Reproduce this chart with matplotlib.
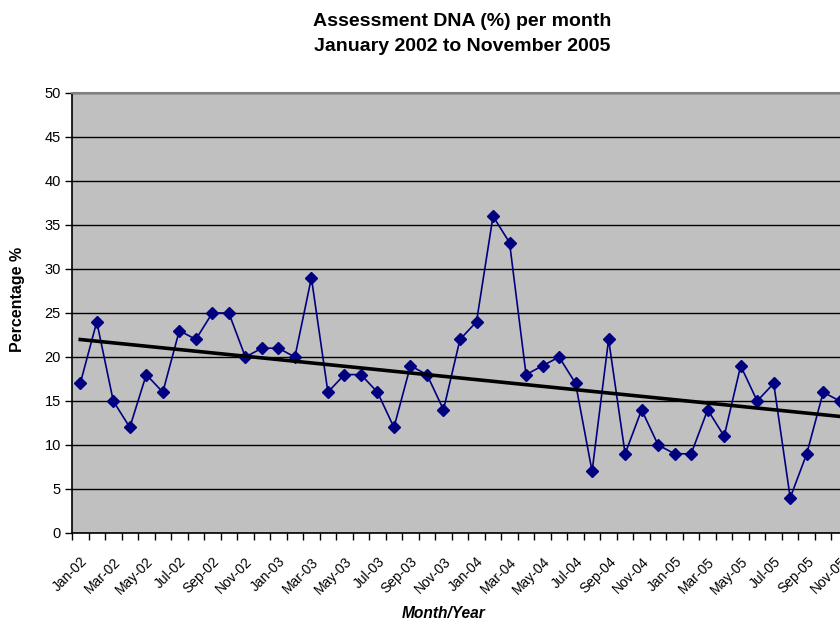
import numpy as np
import matplotlib
matplotlib.use("Agg")
import matplotlib.pyplot as plt
from matplotlib.ticker import MultipleLocator, FixedLocator
from matplotlib.transforms import ScaledTranslation

# month labels Jan-02 .. Nov-05
months = ["Jan", "Feb", "Mar", "Apr", "May", "Jun",
          "Jul", "Aug", "Sep", "Oct", "Nov", "Dec"]
years = ["02", "03", "04", "05"]
labels = [f"{m}-{y}" for y in years for m in months][:47]

dna_pct = [17, 24, 15, 12, 18, 16, 23, 22, 25, 25, 20, 21,
           21, 20, 29, 16, 18, 18, 16, 12, 19, 18, 14, 22,
           24, 36, 33, 18, 19, 20, 17, 7, 22, 9, 14, 10,
           9, 9, 14, 11, 19, 15, 17, 4, 9, 16, 15]

plt.rcParams["font.family"] = ["Liberation Sans", "DejaVu Sans"]

W, H = 840, 620
fig = plt.figure(figsize=(W / 100, H / 100), dpi=100)
fig.patch.set_facecolor("white")

# plot area runs past the right edge of the picture (cropped in the reference)
left, right, top, bottom = 72, 848, 93, 533
ax = fig.add_axes([left / W, (H - bottom) / H, (right - left) / W, (bottom - top) / H])
ax.set_facecolor("#C0C0C0")

x = np.arange(len(dna_pct))
ax.plot(x, dna_pct, color="#000080", linewidth=1.2, marker="D",
        markersize=6, markerfacecolor="#000080", markeredgecolor="#000080",
        zorder=3)

# linear trend line
k, b = np.polyfit(x, dna_pct, 1)
ax.plot(x, k * x + b, color="black", linewidth=2.6, zorder=4)

ax.set_xlim(-0.5, len(dna_pct) - 0.5)
ax.set_ylim(0, 50)

ax.yaxis.set_major_locator(MultipleLocator(5))
ax.grid(axis="y", color="black", linewidth=1.0, zorder=1)
ax.set_axisbelow(True)

ax.xaxis.set_major_locator(FixedLocator(x[::2]))
ax.set_xticklabels(labels[::2], rotation=45, ha="right", va="top",
                   rotation_mode="anchor", fontsize=10)
shift = ScaledTranslation(-0.08, 0, fig.dpi_scale_trans)
for lab in ax.get_xticklabels():
    lab.set_transform(lab.get_transform() + shift)
ax.xaxis.set_minor_locator(FixedLocator(np.arange(-0.5, len(dna_pct), 1)))
ax.tick_params(axis="x", which="major", length=0, pad=15.5)
ax.tick_params(axis="x", which="minor", length=5, width=1, color="black",
               direction="out")
ax.tick_params(axis="y", length=5, width=1, direction="out", labelsize=10.5,
               pad=3)

for side in ["left", "bottom"]:
    ax.spines[side].set_color("black")
    ax.spines[side].set_linewidth(1.2)
ax.spines["top"].set_color("#808080")
ax.spines["top"].set_linewidth(1.5)
ax.spines["right"].set_visible(False)

fig.text(462 / W, 1 - 34 / H,
         "Assessment DNA (%) per month\nJanuary 2002 to November 2005",
         ha="center", va="center", fontsize=14, fontweight="bold",
         linespacing=1.55)
fig.text(18 / W, 1 - 299 / H, "Percentage %", rotation=90, ha="center",
         va="center", fontsize=11.5, fontweight="bold")
fig.text(444 / W, 1 - 613 / H, "Month/Year", ha="center", va="center",
         fontsize=11.2, fontweight="bold", fontstyle="italic")

fig.savefig("out.png", dpi=100, facecolor="white")
